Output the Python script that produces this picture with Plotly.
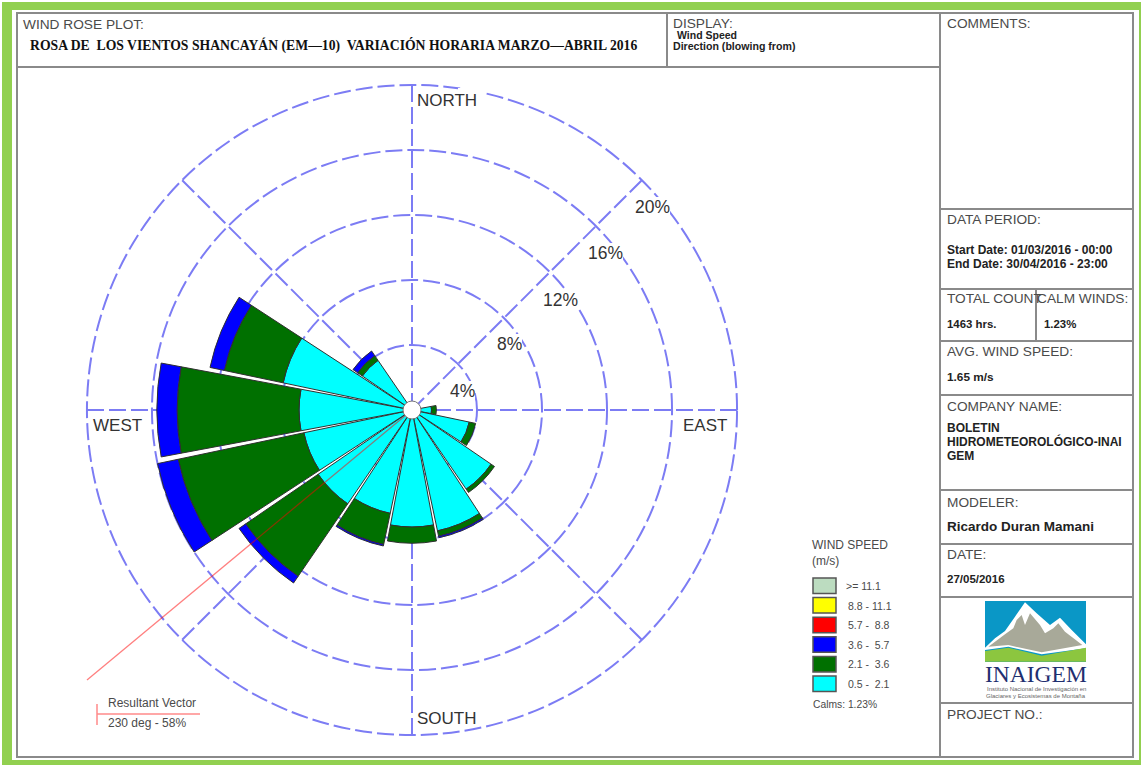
import plotly.graph_objects as go

W, H = 1141, 765

# ---- data ----
DIRECTIONS = [90, 112.5, 135, 157.5, 180, 202.5, 225, 247.5, 270, 292.5, 315]
SPEED_05_21 = [1.2, 3.6, 5.9, 7.6, 7.2, 6.5, 7.0, 6.8, 6.95, 8.1, 3.7]
SPEED_21_36 = [0.3, 0.4, 0.25, 0.33, 1.0, 1.95, 5.4, 7.9, 7.5, 3.7, 0.35]
SPEED_36_57 = [None, None, None, 0.1, None, 0.1, 0.5, 1.3, 1.25, 0.9, 0.35]
RING_TICKS = [4, 8, 12, 16, 20]
RING_LABELS = ["4%", "8%", "12%", "16%", "20%"]
LEGEND_LABELS = [">= 11.1", "8.8 - 11.1", "5.7 -  8.8", "3.6 -  5.7", "2.1 -  3.6", "0.5 -  2.1"]
LEGEND_COLORS = ["#bcdcc0", "#ffff00", "#ff0000", "#0000ff", "#007000", "#00ffff"]


def px(x):
    return x / W


def py(y):
    return 1 - y / H


def rect(x0, y0, x1, y1, fill=None, line=None, lw=0, layer="below"):
    return dict(type="rect", xref="paper", yref="paper", x0=px(x0), x1=px(x1), y0=py(y0), y1=py(y1),
                fillcolor=fill or "rgba(0,0,0,0)", line=dict(color=line or "rgba(0,0,0,0)", width=lw), layer=layer)


def seg(x0, y0, x1, y1, color="#8a8a8a", lw=2, layer="below"):
    return dict(type="line", xref="paper", yref="paper", x0=px(x0), x1=px(x1), y0=py(y0), y1=py(y1),
                line=dict(color=color, width=lw), layer=layer)


def poly(points, fill):
    # points read in a 3x crop of the logo
    pts = [(975 + a / 3, 595 + b / 3) for a, b in points]
    d = "M" + " L".join(f"{px(x):.5f},{py(y):.5f}" for x, y in pts) + " Z"
    return dict(type="path", xref="paper", yref="paper", path=d, fillcolor=fill, line=dict(width=0), layer="below")


SANS = "Liberation Sans"
GREY = "#4a4a4a"
DARK = "#222222"
HEAD = 13.7


def txt(x, y, s, size=HEAD, color=GREY, bold=False, family=SANS, anchor="left", bg=None):
    return dict(xref="paper", yref="paper", x=px(x), y=py(y), text=f"<b>{s}</b>" if bold else s, showarrow=False,
                xanchor=anchor, yanchor="middle", font=dict(family=family, size=size, color=color),
                borderpad=0, borderwidth=0, bgcolor=bg or "rgba(0,0,0,0)")


fig = go.Figure()
for name, vals, col in [("0.5 - 2.1", SPEED_05_21, "#00ffff"),
                        ("2.1 - 3.6", SPEED_21_36, "#007000"),
                        ("3.6 - 5.7", SPEED_36_57, "#0000ff")]:
    fig.add_trace(go.Barpolar(r=vals, theta=DIRECTIONS, width=[21.2] * len(DIRECTIONS), name=name,
                              marker=dict(color=col, line=dict(color="#303030", width=1)), showlegend=False))

shapes = [
    rect(2, 2, W, H, fill="#92d050"),
    rect(12, 10, 1139, 760, fill="#ffffff"),
    rect(17, 13, 1133, 757, line="#8a8a8a", lw=2),
    seg(17, 67, 940, 67),
    seg(667, 13, 667, 67),
    seg(940, 13, 940, 757),
]
for y in [209, 289, 341, 395, 490, 544, 597, 703]:
    shapes.append(seg(940, y, 1133, y))
shapes.append(seg(1036, 289, 1036, 341))

# legend swatches
for i, c in enumerate(LEGEND_COLORS):
    y = 578 + i * 19.6
    shapes.append(rect(813, y, 836, y + 15.5, fill=c, line="#555555", lw=1.5))

# logo
shapes += [
    rect(985, 601, 1086, 662, fill="#0a97c6"),
    poly([(30, 158), (60, 130), (90, 108), (120, 65), (150, 22), (185, 55), (225, 90), (255, 68), (290, 105),
          (333, 148), (333, 160), (200, 178), (100, 155), (30, 165)], "#ffffff"),
    poly([(40, 155), (90, 118), (115, 100), (125, 75), (140, 60), (150, 90), (165, 55), (195, 90), (210, 115),
          (235, 100), (250, 85), (270, 110), (322, 150), (200, 172), (100, 150)], "#a8a999"),
    poly([(30, 168), (100, 158), (200, 182), (333, 158), (333, 200), (30, 200)], "#8cc63f"),
]

# resultant vector + centre hole + the white box behind the NORTH label
shapes += [
    rect(458, 88, 485, 106, fill="#ffffff", layer="above"),
    seg(412, 410, 87, 680, color="rgba(255,0,0,0.5)", lw=1.3, layer="above"),
    seg(97, 714, 200, 714, color="#ff8a8a", lw=1.5),
    seg(97, 704, 97, 725, color="#ff8a8a", lw=1.5),
    dict(type="circle", xref="paper", yref="paper", x0=px(403), x1=px(421), y0=py(401), y1=py(419),
         fillcolor="#ffffff", line=dict(color="#777777", width=1), layer="above"),
]

TITLE = "ROSA DE  LOS VIENTOS SHANCAYÁN (EM—10)  VARIACIÓN HORARIA MARZO—ABRIL 2016"
ann = [
    txt(23, 24, "WIND ROSE PLOT:"),
    txt(30, 45, TITLE, size=13.7, color="#111111", bold=True, family="Liberation Serif"),
    txt(673, 23, "DISPLAY:"),
    txt(677, 35, "Wind Speed", size=10.5, color=DARK, bold=True),
    txt(673, 46, "Direction (blowing from)", size=10.6, color=DARK, bold=True),
    txt(947, 23, "COMMENTS:"),
    txt(947, 220, "DATA PERIOD:"),
    txt(947, 250, "Start Date: 01/03/2016 - 00:00", size=12, color=DARK, bold=True),
    txt(947, 264, "End Date: 30/04/2016 - 23:00", size=12, color=DARK, bold=True),
    txt(947, 299, "TOTAL COUNT"),
    txt(1037, 299, "CALM WINDS:"),
    txt(947, 324, "1463 hrs.", size=11.4, color=DARK, bold=True),
    txt(1044, 324, "1.23%", size=11.4, color=DARK, bold=True),
    txt(947, 352, "AVG. WIND SPEED:"),
    txt(947, 377, "1.65 m/s", size=11.8, color=DARK, bold=True),
    txt(947, 406, "COMPANY NAME:"),
    txt(947, 428, "BOLETIN", size=12, color=DARK, bold=True),
    txt(947, 442, "HIDROMETEOROLÓGICO-INAI", size=12, color=DARK, bold=True),
    txt(947, 456, "GEM", size=12, color=DARK, bold=True),
    txt(947, 502, "MODELER:"),
    txt(947, 526, "Ricardo Duran Mamani", size=13.5, color=DARK, bold=True),
    txt(947, 554, "DATE:"),
    txt(947, 579, "27/05/2016", size=11.5, color=DARK, bold=True),
    txt(947, 714, "PROJECT NO.:"),
    txt(812, 545, "WIND SPEED", size=12),
    txt(812, 561, "(m/s)", size=12),
    txt(813, 704, "Calms: 1.23%", size=10.3),
    txt(417, 101, "NORTH", size=17, color="#333333"),
    txt(417, 718, "SOUTH", size=17, color="#333333"),
    txt(93, 425, "WEST", size=17, color="#333333"),
    txt(683, 425, "EAST", size=17, color="#333333"),
    txt(108, 703, "Resultant Vector", size=12),
    txt(108, 723, "230 deg - 58%", size=12),
    txt(1036, 674, "INAIGEM", size=23.5, color="#1f2f70", family="Liberation Serif", anchor="center"),
    txt(1036, 689, "Instituto Nacional de Investigación en", size=6, color="#666666", anchor="center"),
    txt(1036, 696, "Glaciares y Ecosistemas de Montaña", size=6, color="#666666", anchor="center"),
]
for i, lab in enumerate(LEGEND_LABELS):
    ann.append(txt(846 if i == 0 else 848, 586 + i * 19.6, lab, size=10.5))
for lab, (x, y) in zip(RING_LABELS, [(462, 391), (509, 344), (560, 300), (605, 253), (652, 207)]):
    ann.append(txt(x, y, lab, size=17.5, color="#333333", anchor="center", bg="#ffffff"))

GRID = "#7c7cf4"
DASH = "17px,5px"
fig.update_layout(
    width=W, height=H, autosize=False,
    margin=dict(l=0, r=0, t=0, b=0),
    paper_bgcolor="#ffffff", showlegend=False,
    shapes=shapes, annotations=ann,
    polar=dict(
        domain=dict(x=[px(85), px(739)], y=[py(737), py(83)]),
        bgcolor="rgba(0,0,0,0)", barmode="stack", bargap=0,
        radialaxis=dict(range=[0, 20.12], tickvals=RING_TICKS, showticklabels=False, ticks="", showline=False,
                        gridcolor=GRID, gridwidth=1.7, griddash=DASH),
        angularaxis=dict(rotation=90, direction="clockwise", tickmode="array",
                         tickvals=[0, 45, 90, 135, 180, 225, 270, 315], showticklabels=False, ticks="",
                         showline=False,
                         gridcolor=GRID, gridwidth=1.7, griddash=DASH),
    ),
)

fig.write_html("out.html", config=dict(displayModeBar=False),
               post_script="document.body.style.margin='0';document.body.style.overflow='hidden';")
